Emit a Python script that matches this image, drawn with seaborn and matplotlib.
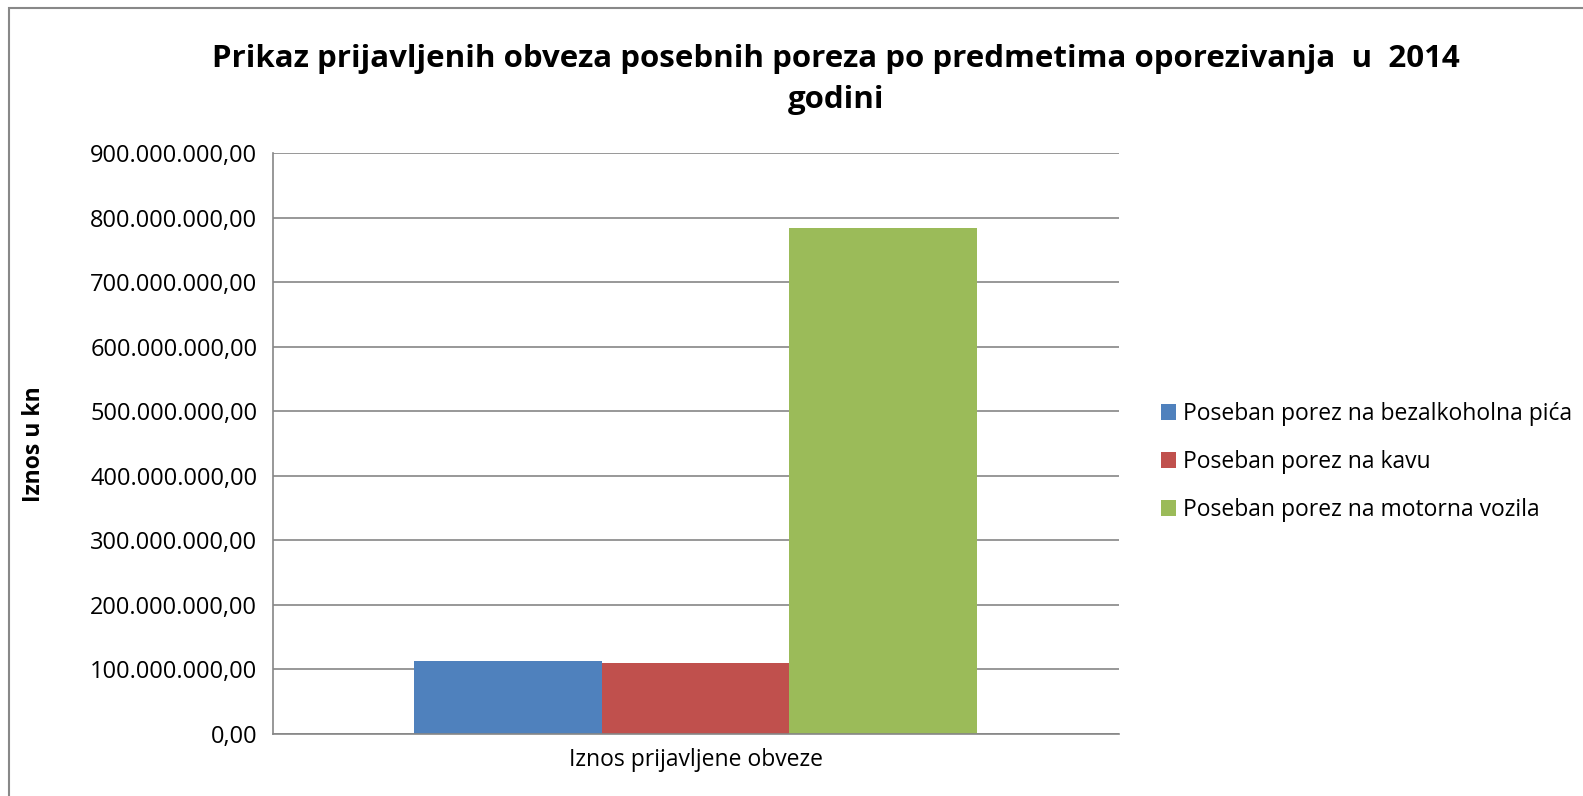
import pandas as pd
import seaborn as sns
import matplotlib.pyplot as plt
from matplotlib.ticker import FuncFormatter, MultipleLocator
from matplotlib.patches import Rectangle

# podaci
kategorija = ["Iznos prijavljene obveze"]
porezi = ["Poseban porez na bezalkoholna pića",
          "Poseban porez na kavu",
          "Poseban porez na motorna vozila"]
iznosi = [112_500_000, 110_800_000, 784_000_000]
boje = ["#4F81BD", "#C0504D", "#9BBB59"]

df = pd.DataFrame({"kategorija": kategorija * len(porezi),
                   "porez": porezi,
                   "iznos": iznosi})

sns.set_style("white")
plt.rcParams['font.family'] = ['Open Sans', 'DejaVu Sans']
plt.rcParams['text.color'] = 'black'
plt.rcParams['axes.labelcolor'] = 'black'
plt.rcParams['xtick.color'] = 'black'
plt.rcParams['ytick.color'] = 'black'

fig = plt.figure(figsize=(15.83, 7.96), dpi=100)
ax = fig.add_axes([0.1722, 0.0779, 0.5344, 0.7293])

sns.barplot(data=df, x="kategorija", y="iznos", hue="porez", palette=boje,
            saturation=1, width=0.665, gap=0, ax=ax, errorbar=None, linewidth=0)

def hr_format(v, pos):
    s = f"{v:,.2f}"
    return s.replace(",", "X").replace(".", ",").replace("X", ".")

ax.set_ylim(0, 900_000_000)
ax.set_xlim(-0.5, 0.5)
ax.yaxis.set_major_locator(MultipleLocator(100_000_000))
ax.yaxis.set_major_formatter(FuncFormatter(hr_format))
ax.grid(axis="y", color="#868686", linewidth=1.2)
ax.set_axisbelow(True)
for s in ["top", "right"]:
    ax.spines[s].set_visible(False)
for s in ["left", "bottom"]:
    ax.spines[s].set_color("#868686")
    ax.spines[s].set_linewidth(1.2)
ax.tick_params(axis="y", length=7, color="#868686", labelcolor="black", width=1.2, labelsize=17, pad=4)
ax.tick_params(axis="x", length=0, labelsize=16.5, pad=10)
ax.set_xlabel("")
ax.set_ylabel("")
fig.text(0.0215, 0.442, "Iznos u kn", rotation=90, ha="center", va="center",
         fontsize=16.5, fontweight="bold")

fig.text(0.528, 0.9, "Prikaz prijavljenih obveza posebnih poreza po predmetima oporezivanja  u  2014\ngodini",
         ha="center", va="center", fontsize=22.5, fontweight="bold", linespacing=1.45)

ax.legend(loc="center left", bbox_to_anchor=(0.7334, 0.4196), bbox_transform=fig.transFigure,
          frameon=False, fontsize=16.5, handlelength=0.65, handleheight=0.65,
          handletextpad=0.3, labelspacing=1.05, borderaxespad=0, borderpad=0)

fig.patches.append(Rectangle((9 / 1583, -0.1), 1.2, 1 - 8 / 796 + 0.1,
                             transform=fig.transFigure, fill=False,
                             edgecolor="#888888", linewidth=1.5))

plt.savefig("out.png", dpi=100)
